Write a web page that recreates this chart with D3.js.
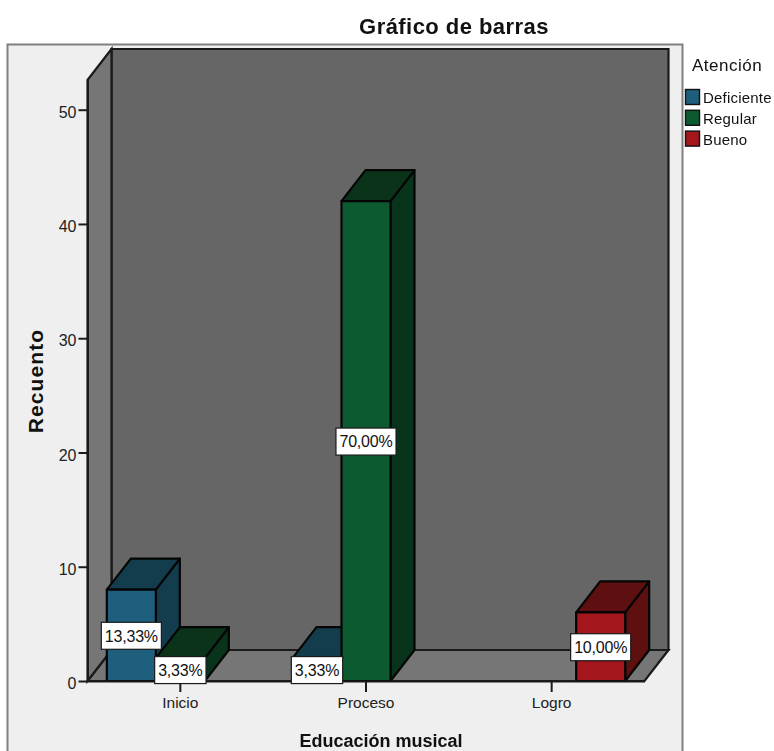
<!DOCTYPE html>
<html>
<head>
<meta charset="utf-8">
<script src="https://cdn.jsdelivr.net/npm/d3@7"></script>
<style>
html, body { margin: 0; padding: 0; background: #fff; }
svg { display: block; }
text { font-family: "Liberation Sans", Arial, sans-serif; fill: #111; }
.tick text { font-size: 15.5px; fill: #222; }
.domain, .tick line { stroke: #1a1a1a; stroke-width: 2px; }
.legend text { font-size: 15px; letter-spacing: 0.2px; }
</style>
</head>
<body>
<div id="chart"></div>
<script>
var categories = ["Inicio", "Proceso", "Logro"];
var seriesNames = ["Deficiente", "Regular", "Bueno"];
var deficiente = [8, 2, 0];
var regular = [2, 42, 0];
var bueno = [0, 0, 6];
var yTicks = [0, 10, 20, 30, 40, 50];
var total = 60;

var frontColors = ["#1d5f7c", "#0c5a2f", "#a3161b"];
var topColors = ["#133d4c", "#0a3319", "#5e0f10"];
var sideColors = ["#133d4c", "#07341b", "#5e0f10"];

var width = 774, height = 751;
var margin = {top: 80, left: 87.5, bottom: 70, right: 129.5};
var depthX = 24, depthY = 31;

var svg = d3.select("#chart").append("svg")
    .attr("width", width)
    .attr("height", height)
    .style("filter", "blur(0.5px)");

var x = d3.scaleBand()
    .domain(categories)
    .range([margin.left, width - margin.right]);

var x1 = d3.scaleBand()
    .domain(seriesNames)
    .range([-73.5, 73.5]);

var y = d3.scaleLinear()
    .domain([0, 52.6])
    .range([height - margin.bottom, margin.top]);

var line = d3.line();

// frame
svg.append("rect")
    .attr("x", 7.5).attr("y", 44.5)
    .attr("width", 675).attr("height", 720)
    .attr("fill", "#efefef")
    .attr("stroke", "#808080")
    .attr("stroke-width", 2);

// walls
var x0 = x.range()[0], x2 = x.range()[1], y0 = y(0), yTop = y.range()[1];

svg.append("path")
    .attr("d", line([[x0 + depthX, yTop - depthY], [x2 + depthX, yTop - depthY], [x2 + depthX, y0 - depthY], [x0 + depthX, y0 - depthY]]) + "Z")
    .attr("fill", "#666666").attr("stroke", "#1a1a1a").attr("stroke-width", 2.2);

svg.append("path")
    .attr("d", line([[x0, y0], [x0 + depthX, y0 - depthY], [x2 + depthX, y0 - depthY], [x2, y0]]) + "Z")
    .attr("fill", "#767676").attr("stroke", "#1a1a1a").attr("stroke-width", 2.2);

svg.append("path")
    .attr("d", line([[x0, yTop], [x0 + depthX, yTop - depthY], [x0 + depthX, y0 - depthY], [x0, y0]]) + "Z")
    .attr("fill", "#767676").attr("stroke", "#1a1a1a").attr("stroke-width", 2.2);

// bars
var rows = [];
categories.forEach(function(c, i) {
    [deficiente, regular, bueno].forEach(function(s, j) {
        if (s[i] > 0) rows.push({category: c, series: seriesNames[j], index: j, value: s[i]});
    });
});

var bar = svg.selectAll(".bar")
    .data(rows)
    .enter().append("g")
    .attr("class", "bar")
    .attr("stroke", "#050505")
    .attr("stroke-width", 2.2)
    .attr("stroke-linejoin", "round");

function left(d) { return x(d.category) + x.bandwidth() / 2 + x1(d.series); }

bar.append("path")
    .attr("fill", function(d) { return sideColors[d.index]; })
    .attr("d", function(d) {
        var r = left(d) + x1.bandwidth();
        return line([[r, y(d.value)], [r + depthX, y(d.value) - depthY], [r + depthX, y(0) - depthY], [r, y(0)]]) + "Z";
    });

bar.append("path")
    .attr("fill", function(d) { return topColors[d.index]; })
    .attr("d", function(d) {
        var l = left(d), r = l + x1.bandwidth();
        return line([[l, y(d.value)], [l + depthX, y(d.value) - depthY], [r + depthX, y(d.value) - depthY], [r, y(d.value)]]) + "Z";
    });

bar.append("rect")
    .attr("fill", function(d) { return frontColors[d.index]; })
    .attr("x", left)
    .attr("y", function(d) { return y(d.value); })
    .attr("width", x1.bandwidth())
    .attr("height", function(d) { return y(0) - y(d.value); });

// axes
var yAxis = svg.append("g")
    .attr("transform", "translate(" + x0 + ",0)")
    .call(d3.axisLeft(y).tickValues(yTicks).tickSize(9).tickSizeOuter(0).tickPadding(2));
yAxis.selectAll(".tick text").attr("dy", "0.48em").style("font-size", "16px");

svg.append("g")
    .attr("transform", "translate(0," + y0 + ")")
    .call(d3.axisBottom(x).tickSize(11).tickSizeOuter(0).tickPadding(5));

// value labels
var percent = function(v) { return (v / total * 100).toFixed(2).replace(".", ",") + "%"; };

var label = svg.selectAll(".value-label")
    .data(rows)
    .enter().append("g")
    .attr("class", "value-label")
    .attr("transform", function(d) {
        return "translate(" + (left(d) + x1.bandwidth() / 2) + "," + ((y(0) + y(d.value)) / 2 + 0.5) + ")";
    });

label.append("text")
    .attr("text-anchor", "middle")
    .attr("dy", "0.36em")
    .style("font-size", "16px")
    .style("letter-spacing", "-0.2px")
    .text(function(d) { return percent(d.value); });

label.insert("rect", "text")
    .each(function() {
        var b = this.parentNode.querySelector("text").getBBox();
        d3.select(this)
            .attr("x", b.x - 3.5).attr("y", -13.5)
            .attr("width", b.width + 7).attr("height", 27);
    })
    .attr("fill", "#fff")
    .attr("stroke", "#1a1a1a")
    .attr("stroke-width", 1.2);

// titles
svg.append("text")
    .attr("x", 454).attr("y", 34)
    .attr("text-anchor", "middle")
    .style("font-size", "22px").style("font-weight", "bold").style("letter-spacing", "0.45px")
    .text("Gráfico de barras");

svg.append("text")
    .attr("x", 381).attr("y", 747)
    .attr("text-anchor", "middle")
    .style("font-size", "18px").style("font-weight", "bold")
    .text("Educación musical");

svg.append("text")
    .attr("transform", "translate(43,381) rotate(-90)")
    .attr("text-anchor", "middle")
    .style("font-size", "21px").style("font-weight", "bold").style("letter-spacing", "1.1px")
    .text("Recuento");

// legend
svg.append("text")
    .attr("x", 692).attr("y", 71)
    .style("font-size", "17px").style("letter-spacing", "0.5px")
    .text("Atención");

var legend = svg.selectAll(".legend")
    .data(seriesNames)
    .enter().append("g")
    .attr("class", "legend")
    .attr("transform", function(d, i) { return "translate(685," + (89 + i * 20.8) + ")"; });

legend.append("rect")
    .attr("x", 0.5).attr("y", 0.5)
    .attr("width", 14).attr("height", 15)
    .attr("fill", function(d, i) { return frontColors[i]; })
    .attr("stroke", "#111")
    .attr("stroke-width", 1.4);

legend.append("text")
    .attr("x", 18).attr("y", 14)
    .text(function(d) { return d; });
</script>
</body>
</html>
